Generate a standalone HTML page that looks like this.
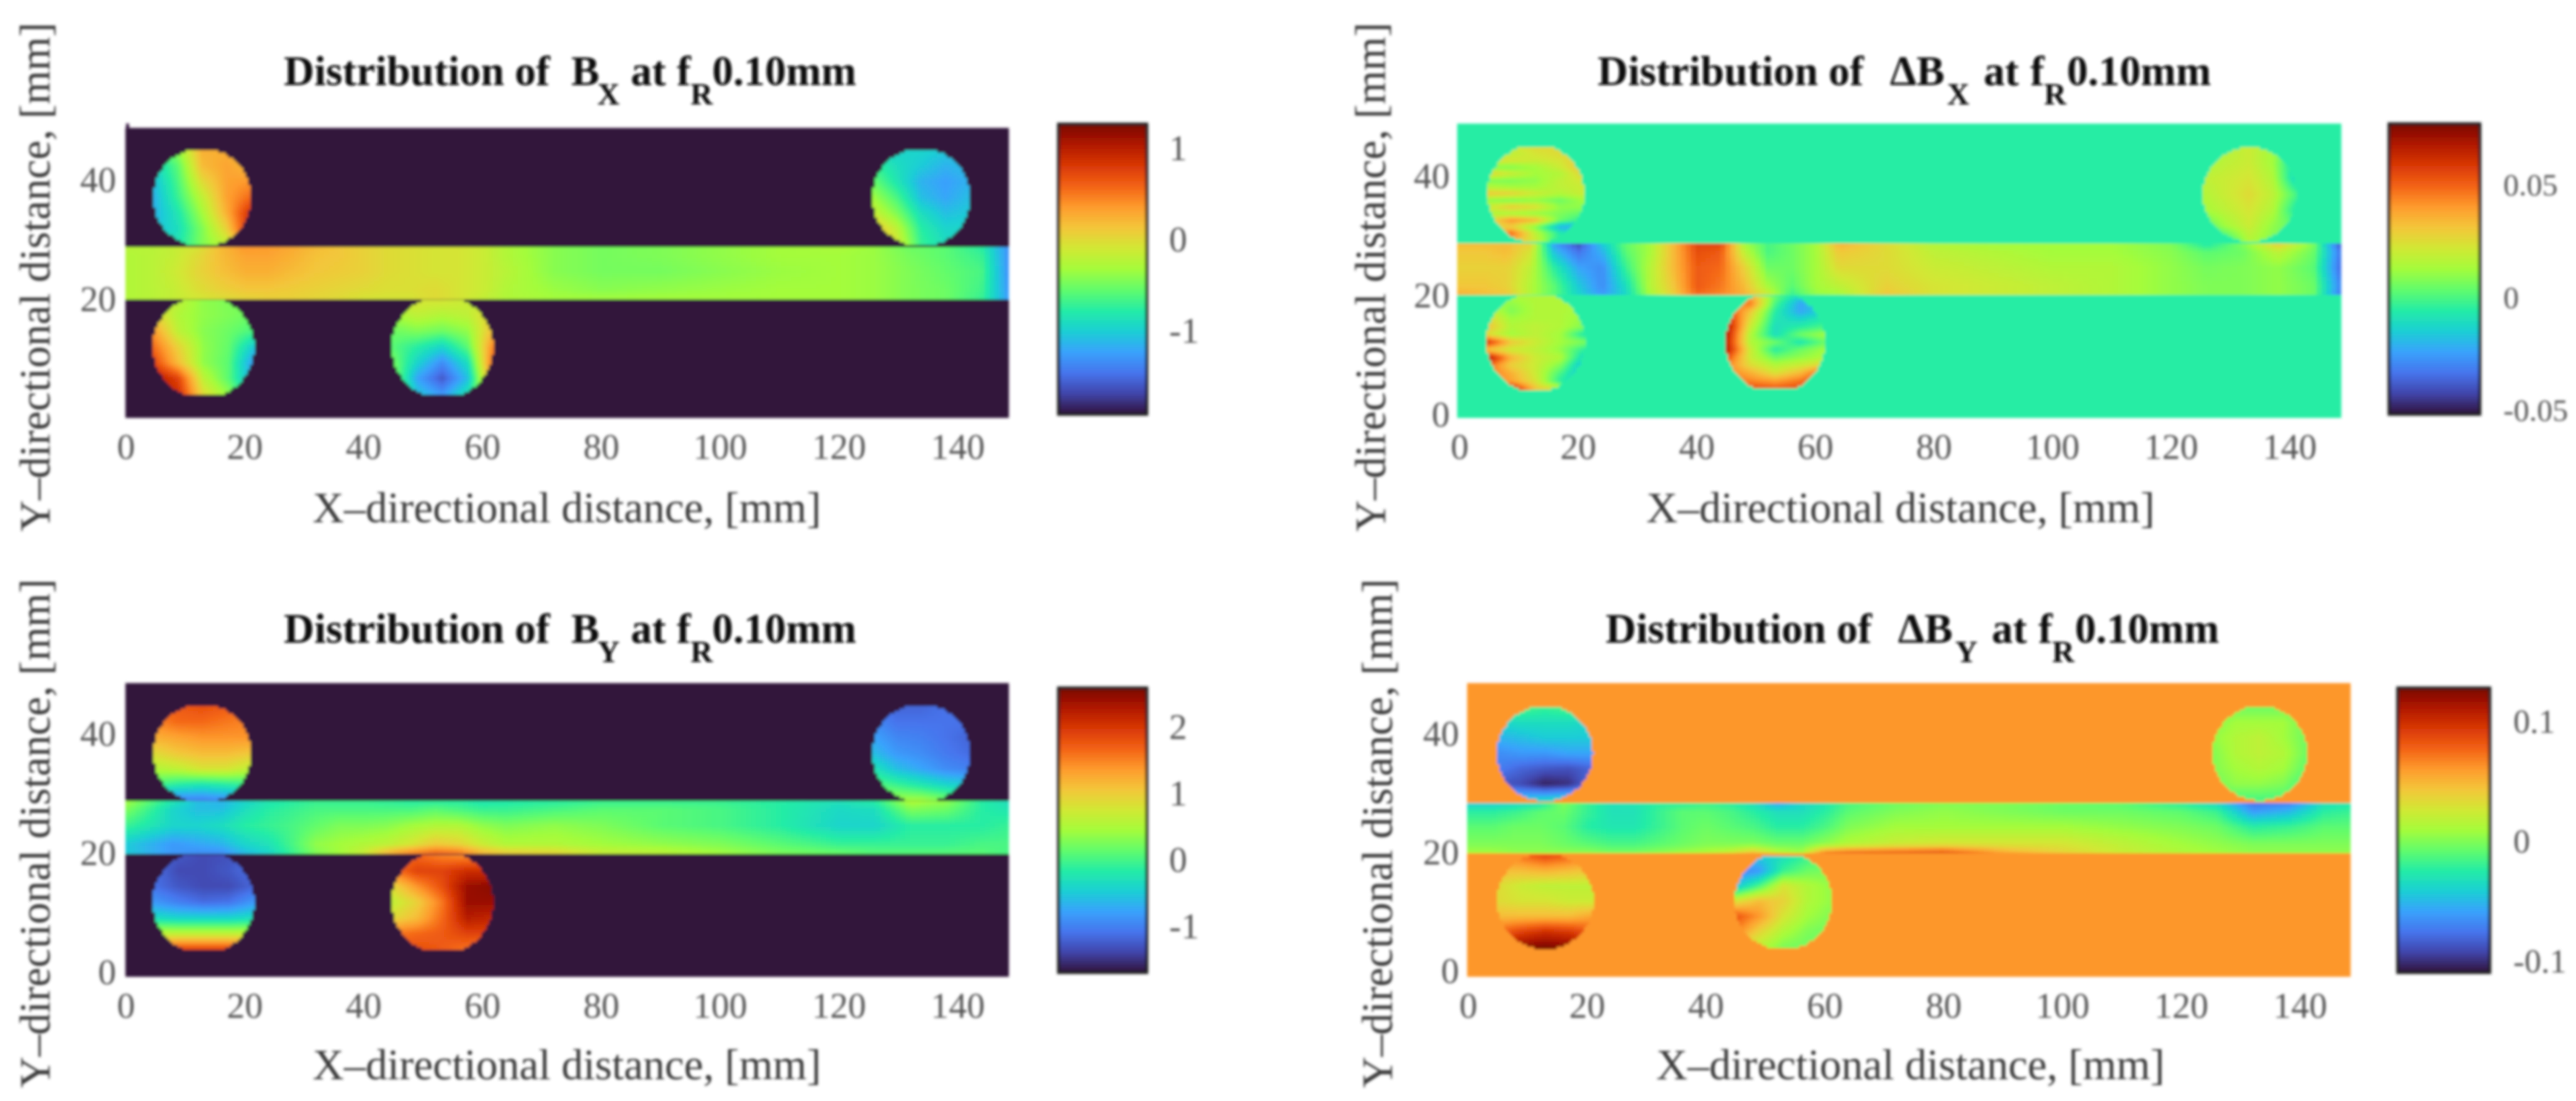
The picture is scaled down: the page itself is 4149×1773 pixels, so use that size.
<!DOCTYPE html>
<html lang="en">
<head>
<meta charset="utf-8">
<title>Magnetic flux density distributions</title>
<style>
html,body{margin:0;padding:0;background:#fff;width:4149px;height:1773px;overflow:hidden}
svg{display:block;font-family:"Liberation Serif",serif}
.title{font-size:68px;font-weight:bold;fill:#0c0c0c}
.sub{font-size:50px}
.axis-title{font-size:70px;fill:#3a3a3a}
.tick{font-size:58px;fill:#555}
</style>
</head>
<body>
<svg id="figure" xmlns="http://www.w3.org/2000/svg" width="4149" height="1773" viewBox="0 0 4149 1773">
<defs>
<filter id="soft" filterUnits="userSpaceOnUse" x="0" y="0" width="4149" height="1773"><feGaussianBlur stdDeviation="2.4"/></filter>
<filter id="softText" filterUnits="userSpaceOnUse" x="0" y="0" width="4149" height="1773"><feGaussianBlur stdDeviation="2"/></filter>
</defs>
<g id="heat-layer" filter="url(#soft)">
<rect x="203" y="199" width="5" height="8" fill="#32123c"/>
</g>
<g id="text-layer" filter="url(#softText)">
<text class="title" y="137"><tspan x="457">Distribution of</tspan><tspan x="920">B</tspan><tspan class="sub" x="962" dy="31">X</tspan><tspan x="1016" dy="-31">at</tspan><tspan x="1090">f</tspan><tspan class="sub" x="1112" dy="31">R</tspan><tspan x="1147" dy="-31">0.10mm</tspan></text>
<text class="title" y="137"><tspan x="2573">Distribution of</tspan><tspan x="3044">ΔB</tspan><tspan class="sub" x="3136" dy="31">X</tspan><tspan x="3195" dy="-31">at</tspan><tspan x="3270">f</tspan><tspan class="sub" x="3292" dy="31">R</tspan><tspan x="3329" dy="-31">0.10mm</tspan></text>
<text class="title" y="1035"><tspan x="457">Distribution of</tspan><tspan x="920">B</tspan><tspan class="sub" x="962" dy="31">Y</tspan><tspan x="1016" dy="-31">at</tspan><tspan x="1090">f</tspan><tspan class="sub" x="1112" dy="31">R</tspan><tspan x="1147" dy="-31">0.10mm</tspan></text>
<text class="title" y="1035"><tspan x="2586">Distribution of</tspan><tspan x="3057">ΔB</tspan><tspan class="sub" x="3149" dy="31">Y</tspan><tspan x="3208" dy="-31">at</tspan><tspan x="3283">f</tspan><tspan class="sub" x="3305" dy="31">R</tspan><tspan x="3342" dy="-31">0.10mm</tspan></text>

<text class="axis-title" x="913" y="841" text-anchor="middle" textLength="819">X–directional distance, [mm]</text>
<text class="axis-title" x="3061" y="841" text-anchor="middle" textLength="819">X–directional distance, [mm]</text>
<text class="axis-title" x="913" y="1738" text-anchor="middle" textLength="819">X–directional distance, [mm]</text>
<text class="axis-title" x="3077" y="1738" text-anchor="middle" textLength="819">X–directional distance, [mm]</text>

<text class="axis-title" transform="translate(80 446) rotate(-90)" text-anchor="middle" textLength="820">Y–directional distance, [mm]</text>
<text class="axis-title" transform="translate(2231 446) rotate(-90)" text-anchor="middle" textLength="820">Y–directional distance, [mm]</text>
<text class="axis-title" transform="translate(80 1342) rotate(-90)" text-anchor="middle" textLength="820">Y–directional distance, [mm]</text>
<text class="axis-title" transform="translate(2242 1342) rotate(-90)" text-anchor="middle" textLength="820">Y–directional distance, [mm]</text>
</g>
</svg>
<script>
/* ---------- shared axis data ---------- */
const xTickValues = [0,20,40,60,80,100,120,140];
const barColumnsMm = [0,4,8,12,16,20,24,28,32,36,40,44,48,52,56,60,64,72,80,90,100,110,120,126,132,138,144,148.7];
const barRowFractions = [0,0.16,0.47,0.82,1];
const turboStops = ["#30123b","#4145ab","#4675ed","#39a2fc","#1bcfd4","#24eca6","#61fc6c","#a4fc3b","#d1e834","#f3c63a","#fe9b2d","#f36315","#d93806","#b11901","#7a0403"];

/* ---------- field readings: percent of each panel's colour range ---------- */
const bxBackground = 0;
const bxBar = [
[53,53,55,58,66,72,71,69,66,64,62,60,59,58,58,56,52,47,45,46,48,50,51,49,44,42,36,18],
[52,53,55,60,66,70,70,68,65,64,62,60,59,58,58,56,52,47,45,46,48,50,50,49,45,42,38,18],
[52,53,56,61,65,68,68,66,64,63,62,60,59,58,58,56,53,47,45,45,47,49,50,49,46,43,40,18],
[52,53,55,59,62,64,64,63,62,61,60,59,59,60,58,56,52,49,47,48,49,50,50,49,46,44,39,19],
[52,53,55,57,59,61,62,62,61,60,58,58,58,60,58,55,52,50,50,50,50,50,50,49,46,44,38,20]];
const bxCircleA = [[38,48,68,68,64],[30,42,66,70,66],[26,40,60,70,72],[24,38,54,70,78],[24,34,50,68,88],[26,32,46,62,90],[32,34,46,54,70]];
const bxCircleB = [[30,30,30,28,26],[38,32,28,24,26],[44,34,24,21,24],[50,40,26,22,26],[56,46,32,26,28],[66,54,36,30,30],[72,58,38,32,32]];
const bxCircleC = [[56,54,48,46,44],[62,52,48,46,44],[72,54,47,44,40],[78,62,48,43,28],[84,66,48,42,20],[94,84,54,42,22],[94,88,60,48,30]];
const bxCircleD = [[58,58,58,56,54],[50,54,52,54,62],[44,46,44,48,66],[42,36,30,42,74],[46,30,18,32,78],[50,22,10,26,74],[52,28,20,34,62]];

const dbxBackground = 36;
const dbxBar = [
[66,66,66,62,20,8,28,43,50,66,84,84,50,40,44,50,68,60,52,50,50,50,46,34,46,64,46,8],
[64,64,66,58,26,14,24,42,50,66,82,80,54,40,44,50,64,60,54,52,50,50,47,42,44,54,44,14],
[62,62,62,54,36,22,18,38,52,66,80,78,62,44,44,50,60,60,56,54,52,52,48,45,46,48,42,12],
[64,64,62,52,42,28,18,32,52,64,80,76,66,50,42,50,54,62,58,56,54,52,48,46,46,48,44,16],
[68,66,64,52,42,30,20,30,50,62,78,74,68,56,38,48,50,64,58,56,54,52,48,46,46,48,44,14]];
const dbxCircleA = [[56,56,60,60,58],[52,54,58,60,60],[60,58,56,58,64],[46,46,50,56,66],[62,56,50,52,62],[46,46,48,54,58],[52,50,50,54,56],[64,62,56,52,56],[48,46,48,44,50],[56,64,60,48,48],[52,50,48,46,42],[58,72,66,44,36],[60,62,46,24,20],[64,78,54,36,30],[62,68,56,34,34]];
const dbxCircleB = [[48,52,56,50,44],[50,54,56,50,30],[54,56,58,52,30],[52,56,60,54,40],[50,54,58,52,34],[40,50,56,48,42],[28,36,52,46,42]];
const dbxCircleC = [[50,52,52,52,50],[50,48,52,52,50],[56,46,52,52,50],[62,50,52,52,48],[66,52,54,52,46],[60,50,54,50,34],[88,64,56,50,46],[64,56,54,48,36],[96,68,56,52,30],[80,62,56,46,24],[78,68,56,40,24],[78,70,58,36,28],[70,92,64,56,36]];
const dbxCircleD = [[60,70,44,30,30],[72,76,40,22,30],[86,64,36,22,30],[92,60,34,30,36],[96,56,32,36,40],[94,52,32,44,50],[92,52,44,34,44],[94,56,36,44,50],[84,56,44,48,52],[76,60,52,56,62],[76,68,58,66,82],[78,74,70,76,86],[80,82,80,82,80]];

const byBackground = 0;
const byBar = [
[50,42,34,26,24,30,34,36,38,38,38,37,36,36,36,34,35,36,38,38,38,36,33,36,52,48,36,32],
[46,38,30,26,26,32,36,38,40,40,40,40,40,42,40,38,38,40,42,42,40,36,31,32,46,44,36,34],
[38,34,30,30,32,36,38,40,43,46,46,47,50,52,52,48,46,48,46,42,40,36,30,30,36,36,36,38],
[28,24,20,22,24,30,33,40,48,50,52,54,58,64,62,56,52,52,50,48,46,42,38,38,38,38,40,40],
[28,24,20,18,18,25,30,38,46,50,56,68,76,80,78,68,64,62,56,54,50,46,44,42,42,42,42,40]];
const byCircleA = [[78,80,82,80,76],[74,78,78,76,74],[68,70,72,72,72],[60,64,66,66,64],[52,54,58,58,54],[40,36,34,36,38],[16,16,16,18,22]];
const byCircleB = [[14,12,12,14,14],[18,14,14,14,14],[22,17,16,14,12],[26,20,18,15,13],[34,26,22,18,16],[42,38,34,30,28],[48,50,50,46,40]];
const byCircleC = [[14,10,8,9,14],[14,8,8,10,14],[14,10,8,8,12],[20,16,13,14,20],[32,30,30,30,32],[54,54,54,54,54],[80,84,84,84,80]];
const byCircleD = [[74,78,74,72,74],[76,84,84,88,88],[60,72,82,96,98],[54,62,76,96,96],[60,66,78,92,90],[76,78,80,84,84],[80,82,80,76,70]];

const dbyBackground = 72;
const dbyBar = [
[28,28,30,32,46,38,33,34,36,36,38,36,32,22,30,34,40,44,46,46,44,42,36,30,14,16,32,34],
[36,36,38,42,44,38,33,33,38,42,42,40,36,32,32,36,42,46,48,46,44,44,42,38,20,24,36,38],
[42,42,44,44,42,36,34,34,38,42,44,42,40,36,36,40,46,50,50,50,50,48,46,44,36,38,42,42],
[46,46,46,46,44,42,40,40,42,44,46,46,46,44,44,48,52,56,58,58,58,54,50,48,46,46,46,46],
[50,50,48,48,48,48,46,46,48,50,52,56,66,54,50,76,80,82,84,70,62,56,52,50,48,48,48,48]];
const dbyCircleA = [[42,40,38,40,42],[30,32,32,32,30],[24,26,28,28,28],[18,20,20,22,22],[16,12,10,9,12],[10,8,2,4,14],[30,28,30,32,34]];
const dbyCircleB = [[40,44,44,44,40],[46,50,50,50,44],[48,52,54,50,44],[46,52,54,52,44],[46,50,52,50,42],[44,48,48,46,38],[36,40,40,40,36]];
const dbyCircleC = [[72,78,84,80,72],[66,66,68,66,64],[60,56,54,54,54],[60,58,58,56,56],[66,66,66,66,70],[78,84,88,86,80],[90,98,100,98,90]];
const dbyCircleD = [[30,28,32,38,40],[16,20,38,44,46],[26,40,58,52,48],[58,66,62,52,48],[82,72,58,50,46],[76,62,52,46,44],[60,54,46,44,44]];

/* ---------- tick labels ---------- */
const bxYTicks = [20,40];
const dbxYTicks = [0,20,40];
const byYTicks = [0,20,40];
const dbyYTicks = [0,20,40];
const bxColorTicks = [1,0,-1];
const bxColorTickLabels = ["1","0","-1"];
const dbxColorTicks = [0.05,0,-0.05];
const dbxColorTickLabels = ["0.05","0","-0.05"];
const byColorTicks = [2,1,0,-1];
const byColorTickLabels = ["2","1","0","-1"];
const dbyColorTicks = [0.1,0,-0.1];
const dbyColorTickLabels = ["0.1","0","-0.1"];

/* ---------- panel layout ---------- */
const panels = [
 {id:'bx', x0:203,kx:9.57,y0:675,ky:9.6, left:202,right:1625,top:206,bottom:673, barBottom:20.1,barTop:28.85, background:bxBackground, bar:bxBar,
  circles:[{cx:12.8,cy:37.2,r:8.2,h:7.9,levels:bxCircleA},{cx:133.8,cy:37.2,r:8.2,h:7.9,levels:bxCircleB},{cx:13,cy:12.1,r:8.5,h:7.9,levels:bxCircleC},{cx:53.2,cy:12.1,r:8.5,h:7.9,levels:bxCircleD}],
  yTicks:bxYTicks, yTickRight:187, cb:{left:1705,right:1847,top:200,bottom:667,vmin:-1.917,vmax:1.26,ticks:bxColorTicks,labels:bxColorTickLabels,labelX:1883,size:58}},
 {id:'delta-bx', x0:2351,kx:9.55,y0:669,ky:9.6, left:2347,right:3771,top:199,bottom:673, barBottom:20.2,barTop:28.85, background:dbxBackground, bar:dbxBar,
  circles:[{cx:12.8,cy:37.2,r:8.15,h:7.8,levels:dbxCircleA},{cx:133.2,cy:37.1,r:7.9,h:7.9,levels:dbxCircleB},{cx:12.8,cy:12.3,r:8.3,h:7.8,levels:dbxCircleC},{cx:53.2,cy:12.3,r:8.4,h:7.7,levels:dbxCircleD}],
  yTicks:dbxYTicks, yTickRight:2335, cb:{left:3848,right:3994,top:199.5,bottom:667,vmin:-0.0526,vmax:0.0762,ticks:dbxColorTicks,labels:dbxColorTickLabels,labelX:4032,size:50}},
 {id:'by', x0:203,kx:9.57,y0:1567,ky:9.6, left:202,right:1625,top:1100,bottom:1573, barBottom:20,barTop:28.85, background:byBackground, bar:byBar,
  circles:[{cx:12.8,cy:36.9,r:8.2,h:7.9,levels:byCircleA},{cx:133.8,cy:36.9,r:8.2,h:7.9,levels:byCircleB},{cx:13,cy:11.9,r:8.5,h:7.9,levels:byCircleC},{cx:53.2,cy:11.9,r:8.5,h:7.9,levels:byCircleD}],
  yTicks:byYTicks, yTickRight:187, cb:{left:1705,right:1847,top:1108,bottom:1566,vmin:-1.70,vmax:2.58,ticks:byColorTicks,labels:byColorTickLabels,labelX:1883,size:58}},
 {id:'delta-by', x0:2365,kx:9.57,y0:1565,ky:9.55, left:2363,right:3786,top:1100,bottom:1573, barBottom:20,barTop:28.5, background:dbyBackground, bar:dbyBar,
  circles:[{cx:12.85,cy:36.85,r:8.05,h:7.8,levels:dbyCircleA},{cx:133.2,cy:36.85,r:7.95,h:7.8,levels:dbyCircleB},{cx:12.9,cy:11.95,r:8.1,h:7.8,levels:dbyCircleC},{cx:53,cy:11.95,r:8.2,h:7.6,levels:dbyCircleD}],
  yTicks:dbyYTicks, yTickRight:2350, cb:{left:3862,right:4010,top:1108,bottom:1566,vmin:-0.1103,vmax:0.127,ticks:dbyColorTicks,labels:dbyColorTickLabels,labelX:4048,size:54}}
];

/* ---------- helpers ---------- */
const NS = 'http://www.w3.org/2000/svg';
const heatLayer = document.getElementById('heat-layer');
const textLayer = document.getElementById('text-layer');
const stopRGB = turboStops.map(h => [parseInt(h.slice(1,3),16),parseInt(h.slice(3,5),16),parseInt(h.slice(5,7),16)]);

function turbo(t){
  t = Math.max(0,Math.min(1,t));
  const p = t*(stopRGB.length-1), i = Math.min(stopRGB.length-2,Math.floor(p)), f = p-i;
  const a = stopRGB[i], b = stopRGB[i+1];
  return 'rgb('+Math.round(a[0]+(b[0]-a[0])*f)+','+Math.round(a[1]+(b[1]-a[1])*f)+','+Math.round(a[2]+(b[2]-a[2])*f)+')';
}
function levelToValue(cb,level){ return cb.vmin + level/100*(cb.vmax-cb.vmin); }
function valueColor(cb,value){ return turbo((value-cb.vmin)/(cb.vmax-cb.vmin)); }
function valueToY(cb,value){ return cb.bottom - (value-cb.vmin)/(cb.vmax-cb.vmin)*(cb.bottom-cb.top); }

function bracket(nodes,v){
  let i = 0;
  while(i < nodes.length-2 && v > nodes[i+1]) i++;
  const f = Math.max(0,Math.min(1,(v-nodes[i])/(nodes[i+1]-nodes[i])));
  return [i,f];
}
function bilinear(grid,cols,rows,cx,ry){
  const [j,fx] = bracket(cols,cx), [i,fy] = bracket(rows,ry);
  const top = grid[i][j]*(1-fx)+grid[i][j+1]*fx;
  const bot = grid[i+1][j]*(1-fx)+grid[i+1][j+1]*fx;
  return top*(1-fy)+bot*fy;
}
function uniformNodes(n){ const a=[]; for(let i=0;i<n;i++) a.push(i/(n-1)); return a; }

function addCell(parent,x,y,w,h,fill,name){
  const el = document.createElementNS(NS,'rect');
  
  
  el.setAttribute('x',x);
  el.setAttribute('y',y);
  el.setAttribute('width',w);
  el.setAttribute('height',h);
  el.setAttribute('fill',fill);
  el.setAttribute('shape-rendering','crispEdges');
  parent.appendChild(el);
  return el;
}
function addText(value,x,y,anchor,size,name){
  const el = document.createElementNS(NS,'text');
  
  
  el.setAttribute('class','tick');
  el.setAttribute('x',x);
  el.setAttribute('y',y);
  el.setAttribute('text-anchor',anchor);
  el.setAttribute('font-size',size);
  el.style.fontSize = size+'px';
  el.textContent = value;
  textLayer.appendChild(el);
}

/* ---------- draw ---------- */
panels.forEach(p => {
  const xScale = mm => p.x0 + mm*p.kx;
  const yScale = mm => p.y0 - mm*p.ky;
  const cb = p.cb;
  const g = document.createElementNS(NS,'g');
  
  
  heatLayer.appendChild(g);

  /* background */
  addCell(g,p.left,p.top,p.right-p.left,p.bottom-p.top,valueColor(cb,levelToValue(cb,p.background)),'heatmap-background');

  /* conductor bar */
  const barPxTop = yScale(p.barTop), barPxBottom = yScale(p.barBottom);
  const cw = 8, ch = 6;
  for(let y=barPxTop; y<barPxBottom; y+=ch){
    const frac = (y+ch/2-barPxTop)/(barPxBottom-barPxTop);
    for(let x=p.left; x<p.right; x+=cw){
      const mm = (x+cw/2-p.x0)/p.kx;
      const level = bilinear(p.bar,barColumnsMm,barRowFractions,mm,frac);
      const w = Math.min(cw+0.5,p.right-x), h = Math.min(ch+0.5,barPxBottom-y);
      addCell(g,x,y,w,h,valueColor(cb,levelToValue(cb,level)),'heatmap-bar-cell');
    }
  }

  /* circular regions */
  p.circles.forEach(c => {
    const cols = uniformNodes(c.levels[0].length), rows = uniformNodes(c.levels.length);
    const step = 4;
    const px = xScale(c.cx), py = yScale(c.cy), rx = c.r*p.kx, ry = c.r*p.ky, hh = c.h*p.ky;
    for(let y=py-hh; y<py+hh; y+=step){
      for(let x=px-rx; x<px+rx; x+=step){
        const dx=(x+step/2-px)/rx, dy=(y+step/2-py)/ry;
        if(dx*dx+dy*dy>1) continue;
        const u=(x+step/2-(px-rx))/(2*rx), v=(y+step/2-(py-hh))/(2*hh);
        const level = bilinear(c.levels,cols,rows,u,v);
        addCell(g,x,y,step+0.5,step+0.5,valueColor(cb,levelToValue(cb,level)),'heatmap-circle-cell');
      }
    }
  });

  /* colourbar */
  const bar = document.createElementNS(NS,'g');
  
  
  heatLayer.appendChild(bar);
  for(let y=cb.top; y<cb.bottom; y+=2){
    const value = cb.vmax - (y+1-cb.top)/(cb.bottom-cb.top)*(cb.vmax-cb.vmin);
    addCell(bar,cb.left,y,cb.right-cb.left,2.5,valueColor(cb,value),'colorbar-step');
  }
  const frame = document.createElementNS(NS,'rect');
  
  
  frame.setAttribute('x',cb.left);
  frame.setAttribute('y',cb.top);
  frame.setAttribute('width',cb.right-cb.left);
  frame.setAttribute('height',cb.bottom-cb.top);
  frame.setAttribute('fill','none');
  frame.setAttribute('stroke','#222');
  frame.setAttribute('stroke-width','5');
  bar.appendChild(frame);

  /* tick labels */
  xTickValues.forEach(v => addText(String(v),xScale(v),p.bottom+66,'middle',58,'x-tick-label'));
  p.yTicks.forEach(v => addText(String(v),p.yTickRight,yScale(v)+18,'end',58,'y-tick-label'));
  cb.ticks.forEach((v,i) => addText(cb.labels[i],cb.labelX,valueToY(cb,v)+20,'start',cb.size,'colorbar-tick-label'));
});
</script>
</body>
</html>
